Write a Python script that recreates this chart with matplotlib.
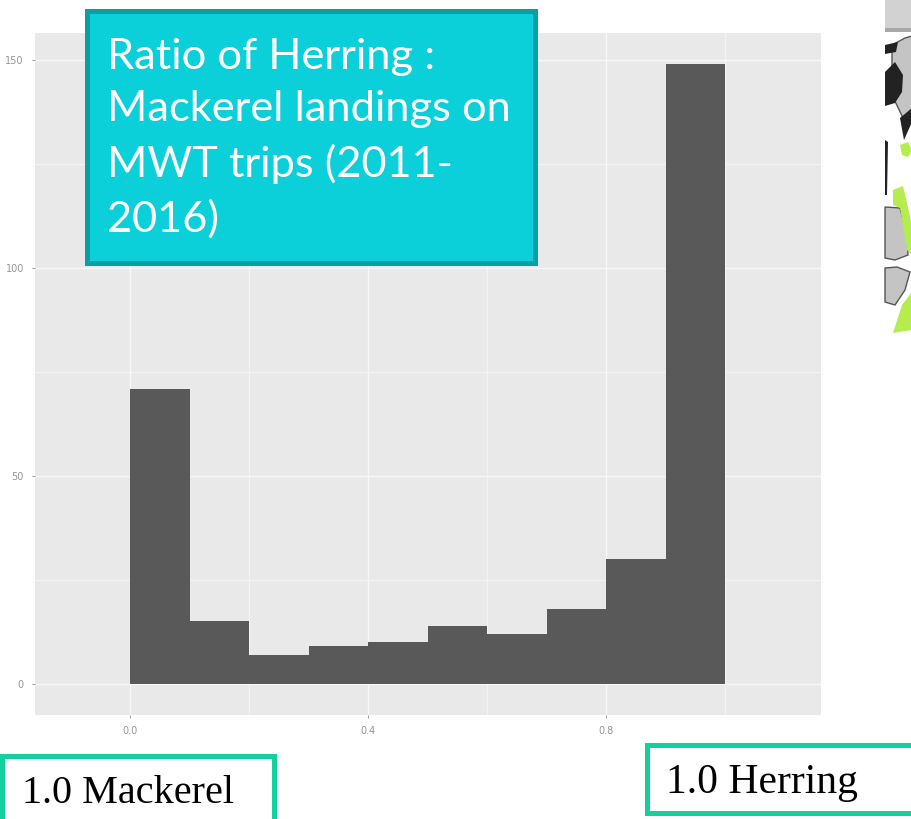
"""Histogram of herring : mackerel landing ratio on MWT trips, slide style."""

import matplotlib.pyplot as plt
from matplotlib.patches import Polygon, Rectangle

bin_left = [0.0, 0.1, 0.2, 0.3, 0.4, 0.5, 0.6, 0.7, 0.8, 0.9]
counts = [71, 15, 7, 9, 10, 14, 12, 18, 30, 149]
bin_width = 0.1

x_major = [0.0, 0.4, 0.8]
x_major_labels = ["0.0", "0.4", "0.8"]
x_minor = [0.2, 0.6, 1.0]
y_major = [0, 50, 100, 150]
y_major_labels = ["0", "50", "100", "150"]
y_minor = [25, 75, 125]

title = "Ratio of Herring :\nMackerel landings on\nMWT trips (2011-\n2016)"
label_left = "1.0 Mackerel"
label_right = "1.0 Herring"

# Bits of the map image cut off at the right edge of the slide (pixels)
map_grey = [
    [(892, 45), (905, 38), (912, 36), (912, 123), (903, 118), (892, 95)],
    [(885, 207), (900, 208), (907, 235), (908, 255), (895, 260), (885, 258)],
    [(885, 268), (897, 267), (910, 272), (905, 290), (895, 305), (885, 302)],
]
map_green = [
    [(900, 145), (908, 142), (912, 150), (908, 157), (902, 155)],
    [(893, 190), (903, 186), (912, 225), (912, 255), (907, 250), (900, 208), (893, 205)],
    [(893, 333), (902, 305), (912, 292), (912, 330)],
]
map_dark = [
    [(885, 72), (895, 62), (903, 75), (902, 92), (895, 103), (885, 106)],
    [(885, 45), (898, 42), (896, 52), (885, 54)],
    [(900, 118), (912, 108), (912, 122), (904, 140)],
    [(885, 140), (888, 142), (887, 195), (885, 195)],
]

GREY_PANEL = "#e9e9e9"
C_TEAL = "#0bd0da"
C_TEAL_EDGE = "#0a9ea5"
C_GREEN = "#14d09c"

fig = plt.figure(figsize=(9.12, 8.19), dpi=100)

ax = fig.add_axes([35 / 912, 1 - 715 / 819, (821 - 35) / 912, (715 - 33) / 819])
ax.set_facecolor(GREY_PANEL)
ax.bar(bin_left, counts, width=bin_width, align="edge", color="#595959", zorder=3)
ax.set_xlim(-0.16, 1.161)
ax.set_ylim(-7.5, 156.5)
ax.set_xticks(x_major)
ax.set_xticklabels(x_major_labels)
ax.set_yticks(y_major)
ax.set_yticklabels(y_major_labels)
ax.set_xticks(x_minor, minor=True)
ax.set_yticks(y_minor, minor=True)
ax.tick_params(which="major", length=2, width=0.7, color="#999999",
               labelcolor="#949494", labelsize=7, pad=6)
ax.tick_params(which="minor", length=0)
ax.grid(which="major", color="#f8f8f8", lw=1.0, zorder=1)
ax.grid(which="minor", color="#f3f3f3", lw=1.0, zorder=1)
ax.set_axisbelow(True)
for spine in ax.spines.values():
    spine.set_visible(False)

# Overlay in pixel coordinates for the slide furniture
over = fig.add_axes([0, 0, 1, 1], zorder=5)
over.set_xlim(0, 912)
over.set_ylim(819, 0)
over.axis("off")

over.add_patch(Rectangle((87, 11), 448, 252, fc=C_TEAL, ec=C_TEAL_EDGE, lw=3.6))
over.text(107, 138, title, color="white", family="Lato", fontsize=31.2,
          ha="left", va="center", linespacing=1.47)

over.add_patch(Rectangle((2, 756), 272, 80, fc="white", ec=C_GREEN, lw=3.6))
over.text(22, 803, label_left, color="black", family="Liberation Serif",
          fontsize=29, ha="left", va="baseline")
over.add_patch(Rectangle((647, 745), 280, 68, fc="white", ec=C_GREEN, lw=3.6))
over.text(666, 793, label_right, color="black", family="Liberation Serif",
          fontsize=30, ha="left", va="baseline")

# Cropped map
over.add_patch(Rectangle((885, 0), 27, 28, fc="#d2d2d2", ec="none"))
over.add_patch(Rectangle((885, 28), 27, 4, fc="#a8a8a8", ec="none"))
for pts in map_grey:
    over.add_patch(Polygon(pts, fc="#c4c4c4", ec="#555555", lw=1))
for pts in map_green:
    over.add_patch(Polygon(pts, fc="#b5ec4e", ec="none"))
for pts in map_dark:
    over.add_patch(Polygon(pts, fc="#222222", ec="none"))

fig.savefig("out.png", dpi=100)
